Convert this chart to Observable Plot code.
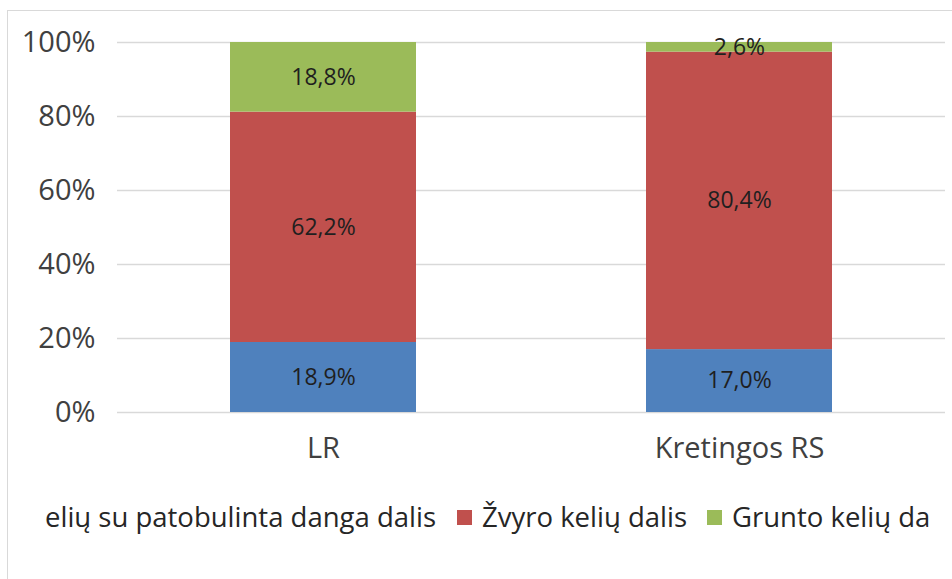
<!DOCTYPE html>
<html>
<head>
<meta charset="utf-8">
<script src="https://cdn.jsdelivr.net/npm/d3@7"></script>
<script src="https://cdn.jsdelivr.net/npm/@observablehq/plot@0.6"></script>
<style>
  html, body { margin: 0; padding: 0; background: #fff; overflow: hidden; width: 952px; height: 579px; }
  #frame { position: absolute; left: 7px; top: 10px; width: 1000px; height: 700px; border: 1px solid #d9d9d9; box-sizing: border-box; }
  #chart { position: absolute; left: 0; top: 0; }
  #legend { position: absolute; left: 0; top: 0; width: 952px; height: 579px; pointer-events: none; font-family: "Open Sans", sans-serif; font-size: 27.5px; color: #262626; }
  .lt { position: absolute; top: 499px; line-height: 36px; white-space: nowrap; }
  .sw { position: absolute; top: 510px; width: 15px; height: 15px; }
</style>
</head>
<body>
<div id="frame"></div>
<div id="chart"></div>
<div id="legend"></div>
<script>
const categories = ["LR", "Kretingos RS"];
const seriesNames = ["Kelių su patobulinta danga dalis", "Žvyro kelių dalis", "Grunto kelių dalis"];
const legendLabels = ["elių su patobulinta danga dalis", "Žvyro kelių dalis", "Grunto kelių da"];
const seriesColors = ["#4F81BD", "#C0504D", "#9BBB59"];
const patobulinta = [18.9, 17.0];
const zvyro = [62.2, 80.4];
const grunto = [18.8, 2.6];
const yTicks = [0, 0.2, 0.4, 0.6, 0.8, 1.0];

const seriesValues = [patobulinta, zvyro, grunto];
const data = [];
seriesNames.forEach((s, si) => {
  categories.forEach((c, ci) => {
    data.push({category: c, series: s, value: seriesValues[si][ci]});
  });
});
const fmt = v => d3.format(".1f")(v).replace(".", ",") + "%";

const chart = Plot.plot({
  width: 952,
  height: 490,
  marginLeft: 117,
  marginRight: 7,
  marginTop: 42,
  marginBottom: 78,
  style: {fontFamily: "Open Sans, sans-serif", background: "transparent", color: "#404040"},
  x: {domain: categories, paddingInner: 0.552, paddingOuter: 0.269, label: null},
  y: {domain: [0, 1], label: null},
  color: {domain: seriesNames, range: seriesColors},
  marks: [
    Plot.gridY(yTicks, {stroke: "#d9d9d9", strokeOpacity: 1, strokeWidth: 1.3}),
    Plot.barY(data, Plot.stackY({offset: "normalize", order: seriesNames, x: "category", y: "value", z: "series", fill: "series"})),
    Plot.text(data, Plot.stackY({offset: "normalize", order: seriesNames, x: "category", y: "value", z: "series", text: d => fmt(d.value), fill: "#1f1f1f", fontSize: 23})),
    Plot.axisY(yTicks, {tickFormat: d => d3.format(".0%")(d), tickSize: 0, tickPadding: 22, fontSize: 29, fill: "#404040", label: null}),
    Plot.axisX({tickSize: 0, tickPadding: 25, fontSize: 29, fill: "#404040", label: null})
  ]
});
document.getElementById("chart").appendChild(chart);

const legend = document.getElementById("legend");
const textX = [45, 482, 732];
const swatchX = [null, 457, 707];
legendLabels.forEach((lab, i) => {
  if (swatchX[i] !== null) {
    const sw = document.createElement("div");
    sw.className = "sw";
    sw.style.left = swatchX[i] + "px";
    sw.style.background = seriesColors[i];
    legend.appendChild(sw);
  }
  const t = document.createElement("div");
  t.className = "lt";
  t.style.left = textX[i] + "px";
  t.textContent = lab;
  legend.appendChild(t);
});
</script>
</body>
</html>
